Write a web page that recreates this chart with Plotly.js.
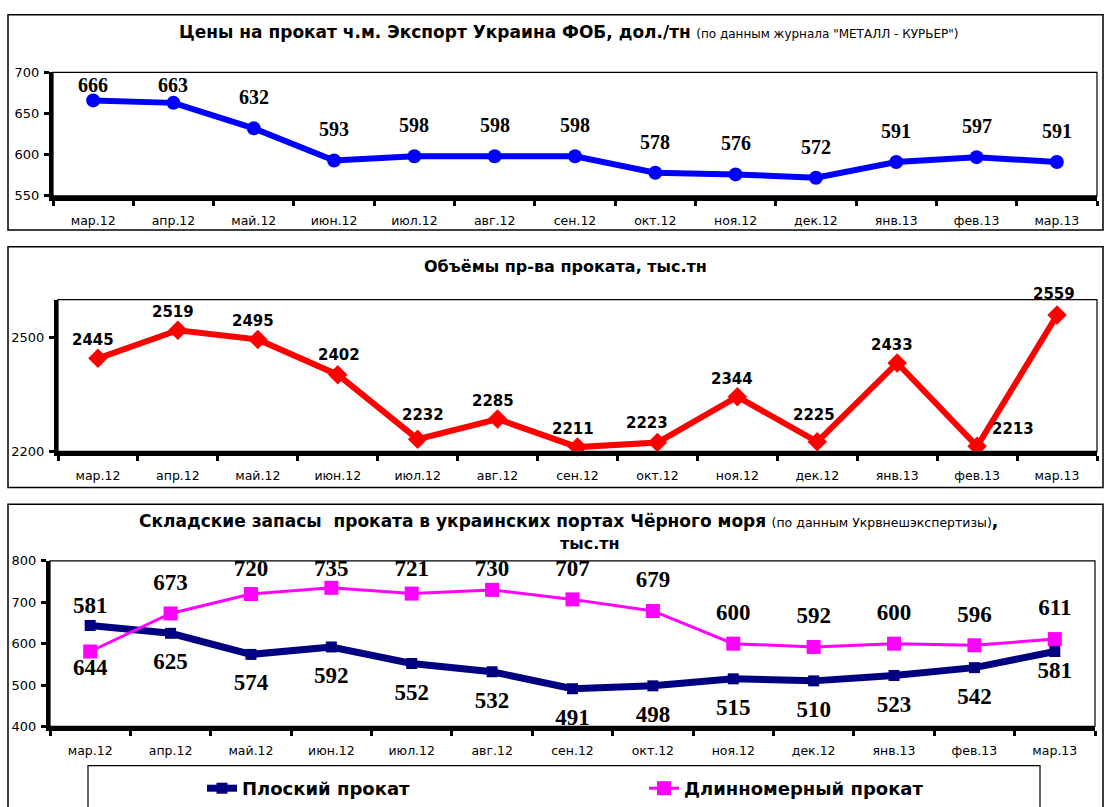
<!DOCTYPE html>
<html>
<head>
<meta charset="utf-8">
<script src="https://cdn.plot.ly/plotly-3.0.1.min.js"></script>
<style>
  html, body { margin: 0; padding: 0; background: #fff; }
  #grafico { width: 1107px; height: 807px; }
</style>
</head>
<body>
<div id="grafico"></div>
<script>
// месяцы
const meses = ['мар.12', 'апр.12', 'май.12', 'июн.12', 'июл.12', 'авг.12', 'сен.12',
               'окт.12', 'ноя.12', 'дек.12', 'янв.13', 'фев.13', 'мар.13'];

// цены экспорт ФОБ, дол./тн
const precios = [666, 663, 632, 593, 598, 598, 598, 578, 576, 572, 591, 597, 591];
// объёмы пр-ва проката, тыс.тн
const produccion = [2445, 2519, 2495, 2402, 2232, 2285, 2211, 2223, 2344, 2225, 2433, 2213, 2559];
// складские запасы, тыс.тн
const plano = [644, 625, 574, 592, 552, 532, 491, 498, 515, 510, 523, 542, 581];
const largo = [581, 673, 720, 735, 721, 730, 707, 679, 600, 592, 600, 596, 611];

const W = 1107, H = 807;
const fx = px => px / W;
const fy = py => 1 - py / H;

const sans = 'DejaVu Sans, Arial, sans-serif';
const serif = 'Liberation Serif, Times New Roman, serif';

// рамки графиков (px)
const p1 = { l: 53, r: 1097, t: 74, b: 200, min: 550, max: 700 };
const p2 = { l: 58, r: 1097, t: 306, b: 461, min: 2200, max: 2600 };
const p3 = { l: 50, r: 1095, t: 573, b: 742, min: 400, max: 800 };

function ejeX(p, anchor) {
    return {
        domain: [fx(p.l), fx(p.r)],
        anchor: anchor,
        type: 'category',
        range: [-0.5, meses.length - 0.5],
        tickson: 'boundaries',
        ticks: 'outside', ticklen: 5, tickwidth: 3, tickcolor: '#000',
        showline: true, linewidth: 5, linecolor: '#000',
        showgrid: false, zeroline: false,
        ticklabelstandoff: 9,
        tickfont: { family: sans, size: 12.5, color: '#000' },
        fixedrange: true
    };
}
function ejeY(p, anchor, extra) {
    return Object.assign({
        domain: [fy(p.b), fy(p.t)],
        anchor: anchor,
        range: [p.min, p.max],
        ticks: 'outside', ticklen: 5, tickwidth: 3, tickcolor: '#000',
        showline: true, linewidth: 4, linecolor: '#000',
        showgrid: false, zeroline: false,
        ticklabelstandoff: 2,
        tickfont: { family: sans, size: 13, color: '#000' },
        fixedrange: true
    }, extra);
}

let data = [
    {
        type: 'scatter', mode: 'lines+markers', x: meses, y: precios,
        xaxis: 'x', yaxis: 'y',
        line: { color: '#0000ff', width: 6 },
        marker: { symbol: 'circle', size: 14, color: '#0000ff' },
        showlegend: false, cliponaxis: false
    },
    {
        type: 'scatter', mode: 'lines+markers', x: meses, y: produccion,
        xaxis: 'x2', yaxis: 'y2',
        line: { color: '#ff0000', width: 6 },
        marker: { symbol: 'diamond', size: 15, color: '#ff0000' },
        showlegend: false, cliponaxis: false
    },
    {
        type: 'scatter', mode: 'lines+markers', x: meses, y: plano,
        xaxis: 'x3', yaxis: 'y3', name: 'Плоский прокат',
        line: { color: '#000080', width: 7 },
        marker: { symbol: 'square', size: 11, color: '#000080' },
        cliponaxis: false
    },
    {
        type: 'scatter', mode: 'lines+markers', x: meses, y: largo,
        xaxis: 'x3', yaxis: 'y3', name: 'Длинномерный прокат',
        line: { color: '#ff00ff', width: 3 },
        marker: { symbol: 'square', size: 14, color: '#ff00ff' },
        cliponaxis: false
    }
];

// подписи данных нижнего графика: текстом, чтобы обрезались осью
const pxu3 = (p3.b - p3.t) / (p3.max - p3.min);
const tope3 = p3.max - 10 / pxu3;
data.push({
    type: 'scatter', mode: 'text', x: meses,
    y: plano.map((v, i) => v - (i === 0 ? 45 : (i === 12 ? 21 : 31)) / pxu3),
    text: plano.map(String), textposition: 'middle center',
    textfont: { family: serif, size: 23, color: '#000', weight: 'bold' },
    xaxis: 'x3', yaxis: 'y3', showlegend: false, hoverinfo: 'skip', cliponaxis: true
});
data.push({
    type: 'scatter', mode: 'text', x: meses,
    y: largo.map((v, i) => Math.min(v + (i === 0 ? 45 : 30) / pxu3, tope3)),
    text: largo.map(String), textposition: 'middle center',
    textfont: { family: serif, size: 23, color: '#000', weight: 'bold' },
    xaxis: 'x3', yaxis: 'y3', showlegend: false, hoverinfo: 'skip', cliponaxis: true
});

let anotaciones = [];

// подписи верхнего графика
const pxu1 = (p1.b - p1.t) / (p1.max - p1.min);
precios.forEach((v, i) => {
    anotaciones.push({
        xref: 'x', yref: 'y', x: meses[i], y: v, showarrow: false,
        xanchor: 'center', yanchor: 'middle',
        yshift: Math.min(31, (p1.max - v) * pxu1 - 13),
        text: String(v),
        font: { family: serif, size: 20, color: '#000', weight: 'bold' }
    });
});

// подписи среднего графика
const ajuste2 = { 11: [36, 17], 4: [5, 24], 7: [-10, 20], 9: [-3, 27], 3: [1, 20], 12: [-3, 21] };
produccion.forEach((v, i) => {
    let d = ajuste2[i] || [-5, 18];
    anotaciones.push({
        xref: 'x2', yref: 'y2', x: meses[i], y: v, showarrow: false,
        xanchor: 'center', yanchor: 'middle',
        xshift: d[0], yshift: d[1],
        text: String(v),
        font: { family: sans, size: 15, color: '#000', weight: 'bold' }
    });
});

// заголовки
function titulo(x, y, texto, tam) {
    anotaciones.push({
        xref: 'paper', yref: 'paper', x: fx(x), y: fy(y), showarrow: false,
        xanchor: 'center', yanchor: 'middle',
        text: texto,
        font: { family: sans, size: tam, color: '#000' }
    });
}
titulo(568, 33, '<b>Цены на прокат ч.м. Экспорт Украина ФОБ, дол./тн</b> <span style="font-size:12px">(по данным журнала "МЕТАЛЛ - КУРЬЕР")</span>', 17);
titulo(565, 272, '<b>Объёмы пр-ва проката, тыс.тн</b>', 16);
titulo(568, 532, '<b>Складские запасы  проката в украинских портах Чёрного моря</b> <span style="font-size:12.5px">(по данным Укрвнешэкспертизы)</span><b>,</b>', 17);
titulo(590, 555, '<b>тыс.тн</b>', 16);

function caja(x0, y0, x1, y1, w) {
    return {
        type: 'rect', xref: 'paper', yref: 'paper', layer: 'below',
        x0: fx(x0), x1: fx(x1), y0: fy(y1), y1: fy(y0),
        line: { color: '#000', width: w }, fillcolor: 'rgba(0,0,0,0)'
    };
}
function marco(xr, yr) {
    return {
        type: 'rect', xref: xr + ' domain', yref: yr + ' domain', layer: 'below',
        x0: 0, x1: 1, y0: 0, y1: 1,
        line: { color: '#000', width: 1.2 }, fillcolor: 'rgba(0,0,0,0)'
    };
}

let layout = {
    width: W, height: H,
    margin: { l: 0, r: 0, t: 0, b: 0 },
    paper_bgcolor: '#fff', plot_bgcolor: '#fff',
    showlegend: true,
    legend: {
        orientation: 'h', x: fx(202), y: fy(787), xanchor: 'left', yanchor: 'top',
        entrywidth: 397, bgcolor: 'rgba(0,0,0,0)', borderwidth: 0,
        font: { family: sans, size: 18, color: '#000', weight: 'bold' }
    },
    xaxis: ejeX(p1, 'y'),
    yaxis: ejeY(p1, 'x', { dtick: 50 }),
    xaxis2: ejeX(p2, 'y2'),
    yaxis2: ejeY(p2, 'x2', { tickmode: 'array', tickvals: [2200, 2500] }),
    xaxis3: ejeX(p3, 'y3'),
    yaxis3: ejeY(p3, 'x3', { dtick: 100 }),
    annotations: anotaciones,
    shapes: [
        caja(8, 15, 1103, 235, 1.5),
        caja(8, 252, 1103, 498, 1.5),
        caja(8, 515, 1103, 830, 1.5),
        caja(88, 782, 1040, 830, 1.2),
        marco('x', 'y'), marco('x2', 'y2'), marco('x3', 'y3')
    ]
};

let config = { staticPlot: true };

Plotly.newPlot('grafico', data, layout, config);
</script>
</body>
</html>
